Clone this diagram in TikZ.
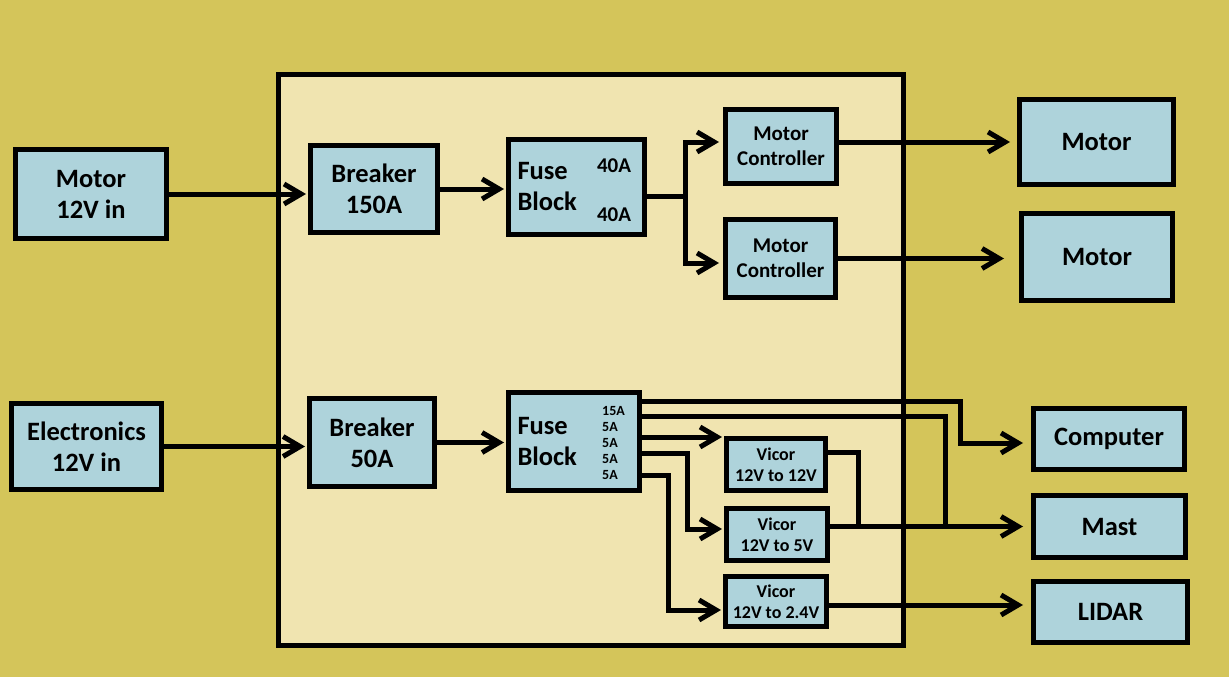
\documentclass[tikz,border=0pt]{standalone}
\usepackage{fontspec}
\setmainfont{Carlito}
\usepackage{tikz}
\usetikzlibrary{arrows.meta,positioning,shadows,calc}

\definecolor{olivebg}{HTML}{D4C55A}
\definecolor{panelfill}{HTML}{F0E4B0}
\definecolor{boxfill}{HTML}{AED3DB}

\begin{document}
\begin{tikzpicture}[x=1pt, y=-1pt,
    box/.style={draw, line width=5pt, fill=boxfill, align=center, inner sep=0pt,
      drop shadow={opacity=0.18, shadow xshift=1.5pt, shadow yshift=-1.5pt}},
    bigtext/.style={font=\fontsize{26.5}{31}\selectfont\bfseries},
    midtext/.style={font=\fontsize{21}{25}\selectfont\bfseries},
    smalltext/.style={font=\fontsize{18}{21}\selectfont\bfseries},
    amp/.style={font=\fontsize{21}{24}\selectfont\bfseries, inner sep=0pt},
    tinyamp/.style={font=\fontsize{14}{16}\selectfont\bfseries, inner sep=0pt, anchor=west},
    wire/.style={line width=5pt},
    arr/.style={wire, -{Straight Barb[length=17pt,width=20pt]}, shorten >=4pt}]

    \fill[olivebg] (0,0) rectangle (1229,677);
    \useasboundingbox (0,0) rectangle (1229,677);

    % board
    \node[draw, line width=5pt, fill=panelfill, minimum width=625pt, minimum height=571pt] (board) at (591,360) {};

    % inputs
    \node[box, bigtext, minimum width=151pt, minimum height=89pt] (motorin) at (91,194) {Motor\\12V in};
    \node[box, bigtext, minimum width=150pt, minimum height=86pt] (elecin) at (86.5,446.5) {Electronics\\12V in};

    % breakers and fuses
    \node[box, bigtext, minimum width=127pt, minimum height=87pt] (breakA) at (374,189) {Breaker\\150A};
    \node[box, bigtext, minimum width=125pt, minimum height=88pt] (breakB) at (372,442.5) {Breaker\\50A};
    \node[box, bigtext, text width=118pt, align=left, inner xsep=9pt, minimum height=95pt] (fuseA) at (576.5,187) {Fuse\\Block};
    \node[box, bigtext, text width=113pt, align=left, inner xsep=9pt, minimum height=98pt] (fuseB) at (574,441.5) {Fuse\\Block};
    \node[amp] (ampA1) at ($(fuseA.east)+(-33,-21)$) {40A};
    \node[amp] (ampA2) at ($(fuseA.east)+(-33,28)$) {40A};
    \node[tinyamp] (ampB1) at ($(fuseB.east)+(-40,-30.5)$) {15A};
    \node[tinyamp] (ampB2) at ($(fuseB.east)+(-40,-14.5)$) {5A};
    \node[tinyamp] (ampB3) at ($(fuseB.east)+(-40,1.5)$) {5A};
    \node[tinyamp] (ampB4) at ($(fuseB.east)+(-40,17.5)$) {5A};
    \node[tinyamp] (ampB5) at ($(fuseB.east)+(-40,33.5)$) {5A};

    % controllers and converters
    \node[box, midtext, minimum width=111pt, minimum height=74pt] (ctrlA) at (781,146.5) {Motor\\Controller};
    \node[box, midtext, minimum width=110pt, minimum height=78pt] (ctrlB) at (780.5,258.5) {Motor\\Controller};
    \node[box, smalltext, minimum width=99pt, minimum height=52pt] (vicorA) at (776,464.5) {Vicor\\12V to 12V};
    \node[box, smalltext, minimum width=101pt, minimum height=52pt] (vicorB) at (777,534.5) {Vicor\\12V to 5V};
    \node[box, smalltext, minimum width=101pt, minimum height=50pt] (vicorC) at (776,601.5) {Vicor\\12V to 2.4V};

    % loads
    \node[box, bigtext, minimum width=154pt, minimum height=85pt] (motorA) at (1096.5,142) {Motor};
    \node[box, bigtext, minimum width=151pt, minimum height=87pt] (motorB) at (1097,257) {Motor};
    \node[box, bigtext, minimum width=151pt, minimum height=61pt] (computer) at (1109,439) {Computer};
    \node[box, bigtext, minimum width=152pt, minimum height=62pt] (mast) at (1109.5,526.5) {Mast};
    \node[box, bigtext, minimum width=154pt, minimum height=61pt] (lidar) at (1110.5,612) {LIDAR};

    % motor side
    \draw[arr, shorten >=2pt] (motorin.east) -- (motorin.east -| breakA.west);
    \draw[arr, shorten >=2pt] (breakA.east) -- (breakA.east -| fuseA.west);
    \coordinate (fA) at ($(fuseA.east)+(0,9)$);
    \draw[arr] (fA) -- ++(38,0) |- ([yshift=4.5pt]ctrlA.west);
    \draw[arr] (fA) -- ++(38,0) |- ([yshift=-4.5pt]ctrlB.west);
    \coordinate (cA) at ([yshift=4.5pt]ctrlA.east);
    \draw[arr, shorten >=7pt] (cA) -- (cA -| motorA.west);
    \draw[arr, shorten >=15pt] (ctrlB.east) -- (ctrlB.east -| motorB.west);

    % electronics side
    \draw[arr, shorten >=2pt] (elecin.east) -- (elecin.east -| breakB.west);
    \draw[arr, shorten >=2pt] (breakB.east) -- (breakB.east -| fuseB.west);
    \coordinate (f1) at ($(fuseB.east)+(0,-40.5)$);
    \coordinate (f2) at ($(fuseB.east)+(0,-25.5)$);
    \coordinate (f3) at ($(fuseB.east)+(0,-4.5)$);
    \coordinate (f4) at ($(fuseB.east)+(0,11.5)$);
    \coordinate (f5) at ($(fuseB.east)+(0,33.5)$);
    \draw[arr, shorten >=8pt] (f1) -- ++(318,0) |- ([yshift=-4pt]computer.west);
    \draw[wire] (f2) -| ($(mast.west)+(-86,0)$);
    \draw[arr, shorten >=2pt] (f3) -- (f3 -| vicorA.west);
    \draw[arr, shorten >=2pt] (f4) -- ++(45,0) |- ([yshift=5.5pt]vicorB.west);
    \draw[arr, shorten >=2pt] (f5) -- ++(26,0) |- ([yshift=-8.5pt]vicorC.west);
    \coordinate (vA) at ([yshift=12.5pt]vicorA.east);
    \draw[wire] (vA) -| ($(vicorB.east |- mast.west)+(28,0)$);
    \draw[arr, shorten >=8pt] (vicorB.east |- mast.west) -- (mast.west);
    \coordinate (vC) at ([yshift=-3.5pt]vicorC.east);
    \draw[arr, shorten >=8pt] (vC) -- (vC -| lidar.west);
\end{tikzpicture}
\end{document}
